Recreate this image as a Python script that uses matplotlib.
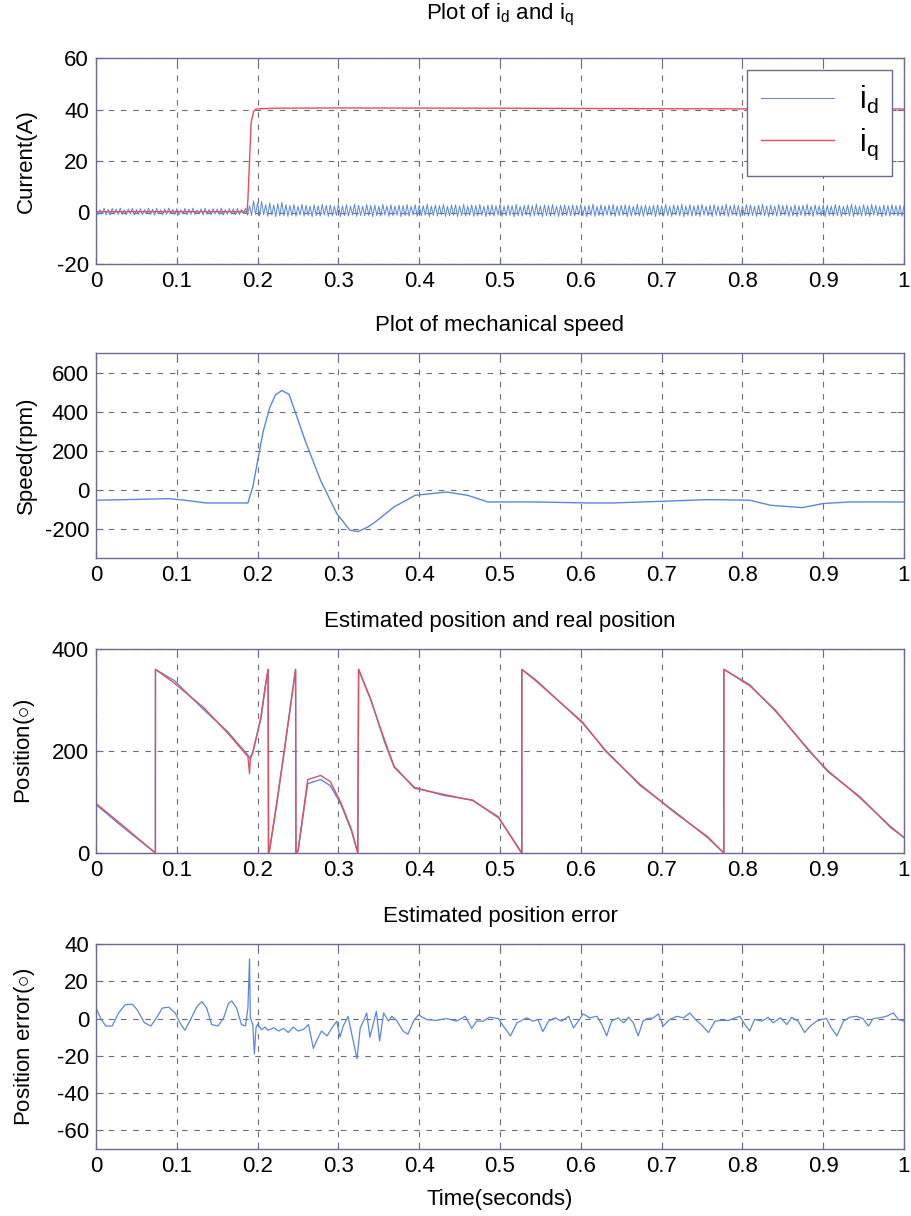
import numpy as np
import matplotlib
matplotlib.use("Agg")
import matplotlib.pyplot as plt

plt.rcParams['font.family'] = ['Liberation Sans', 'DejaVu Sans']
plt.rcParams['mathtext.fontset'] = 'custom'
plt.rcParams['mathtext.rm'] = 'Liberation Sans'
plt.rcParams['mathtext.it'] = 'Liberation Sans'
plt.rcParams['axes.unicode_minus'] = False

# ---- plot 1: currents ----
i_d = [
    # before the step (t < 0.19)
    1.5, -0.8, 1.1, -0.6, 1.7, -0.9, 1.2, -1.0, 1.6, -0.5, 1.3, -0.8, 1.7, -0.7, 1.0, -0.9, 1.4, -0.6, 1.6, -1.0,
    1.2, -0.7, 1.5, -0.9, 1.1, -0.5, 1.7, -0.8, 1.3, -1.0, 1.6, -0.6, 1.0, -0.9, 1.4, -0.7, 1.7, -0.5, 1.2, -0.8,
    1.5, -1.0, 1.1, -0.6, 1.6, -0.9, 1.3, -0.7, 1.7, -0.8, 1.0, -0.5, 1.4, -1.0, 1.6, -0.7, 1.2, -0.9, 1.5, -0.6,
    1.3, -0.8, 1.7, -1.0, 1.1, -0.7, 1.5, -0.6, 1.4, -0.9, 1.6, -0.8, 1.2, -0.5, 1.7, -1.0,
    # after the step
    2.6, -1.1, 4.5, -0.7, 3.8, -1.4, 4.3, -0.9, 3.0, -1.5, 3.7, -1.0, 2.9, -1.6, 3.4, -1.2, 4.0, -1.3, 3.1, -1.5,
    2.7, -1.2, 3.1, -1.5, 2.4, -1.0, 3.2, -1.4, 2.8, -1.1, 2.5, -1.6, 3.0, -1.2, 2.6, -1.4, 3.2, -1.0, 2.7, -1.5,
    2.9, -1.3, 2.5, -1.1, 3.1, -1.6, 2.6, -1.2, 3.0, -1.4, 2.4, -1.0, 3.2, -1.5, 2.8, -1.2, 2.5, -1.3, 3.1, -1.1,
    2.7, -1.6, 2.9, -1.2, 2.4, -1.4, 3.2, -1.0, 2.6, -1.5, 3.0, -1.3, 2.5, -1.1, 2.9, -1.6, 2.7, -1.2, 3.1, -1.4,
    2.4, -1.0, 3.0, -1.5, 2.8, -1.3, 2.6, -1.1, 3.2, -1.6, 2.5, -1.2, 2.9, -1.4, 2.7, -1.0, 3.1, -1.5, 2.4, -1.3,
    2.8, -1.1, 3.0, -1.6, 2.6, -1.2, 3.2, -1.4, 2.5, -1.0, 2.9, -1.5, 2.7, -1.3, 3.1, -1.1, 2.4, -1.6, 2.8, -1.2,
    3.0, -1.4, 2.6, -1.0, 3.2, -1.5, 2.5, -1.3, 2.9, -1.1, 2.7, -1.6, 3.1, -1.2, 2.4, -1.4, 2.8, -1.0, 3.0, -1.5,
    2.6, -1.3, 3.2, -1.1, 2.5, -1.6, 2.9, -1.2, 2.7, -1.4, 3.1, -1.0, 2.4, -1.5, 2.8, -1.3, 3.0, -1.1, 2.6, -1.2,
    2.9, -1.4, 2.7, -1.0, 3.1, -1.3, 2.5, -1.6, 2.8, -1.1, 3.2, -1.5, 2.4, -1.2, 3.0, -1.4, 2.6, -1.0, 2.9, -1.3,
    3.1, -1.5, 2.5, -1.2, 2.8, -1.0, 3.0, -1.6, 2.7, -1.3, 2.4, -1.1, 3.2, -1.4, 2.6, -1.5, 2.9, -1.2, 2.5, -1.0,
    2.8, -1.6, 3.0, -1.1, 2.6, -1.4, 3.1, -1.2, 2.4, -1.5, 2.9, -1.0, 2.7, -1.3, 3.2, -1.6, 2.5, -1.1, 3.0, -1.4,
    2.6, -1.2, 2.9, -1.5, 3.1, -1.0, 2.4, -1.3, 2.8, -1.6, 3.0, -1.1, 2.5, -1.4, 2.7, -1.2, 3.2, -1.5, 2.6, -1.0,
    3.0, -1.3, 2.7, -1.6, 2.5, -1.1, 3.1, -1.4, 2.9, -1.2, 2.4, -1.5, 2.8, -1.0, 3.2, -1.3, 2.6, -1.6, 2.9, -1.1,
    2.5, -1.4, 3.1, -1.2, 2.7, -1.0, 2.9, -1.5, 2.4, -1.3, 3.0, -1.6, 2.6, -1.1, 2.8, -1.4, 3.2, -1.2, 2.5, -1.5,
    2.9, -1.0, 2.6, -1.3, 3.0, -1.6, 2.8, -1.1, 2.5, -1.4, 3.1, -1.2, 2.7, -1.5, 2.4, -1.0, 2.9, -1.3, 3.2, -1.6,
    2.7, -1.1, 2.5, -1.4, 3.0, -1.2, 2.6, -1.5, 3.1, -1.0, 2.8, -1.3, 2.4, -1.6, 2.9, -1.2, 2.7, -1.4, 3.0, -1.1,
    2.6, -1.3, 2.8, -1.5, 2.7]
t_id = np.linspace(0, 1, len(i_d))

t_iq = [0, 0.187, 0.188, 0.190, 0.192, 0.195, 0.198, 0.22, 0.3, 0.5, 0.7, 0.9, 1.0]
i_q = [0.3, 0.3, 5, 20, 35, 39.2, 40.2, 40.5, 40.6, 40.5, 40.3, 40.2, 40.2]

# ---- plot 2: speed ----
t_speed = [0, 0.05, 0.09, 0.11, 0.136, 0.188, 0.194, 0.204, 0.207, 0.215, 0.222, 0.23, 0.239, 0.259, 0.278,
           0.298, 0.314, 0.324, 0.337, 0.346, 0.369, 0.395, 0.434, 0.46, 0.485, 0.544, 0.608, 0.64, 0.705,
           0.757, 0.809, 0.835, 0.874, 0.9, 0.932, 1.0]
speed = [-54, -50, -46, -54, -68, -68, 14, 234, 300, 420, 485, 508, 488, 250, 47,
         -122, -207, -215, -190, -164, -88, -29, -12, -29, -63, -63, -68, -68, -59,
         -51, -54, -80, -92, -71, -63, -63]

# ---- plot 3: position (real and estimated) ----
t_pos = [0, 0.03, 0.0735, 0.0736, 0.097, 0.134, 0.163, 0.188, 0.190, 0.191, 0.194, 0.196, 0.204, 0.21, 0.213,
         0.2135, 0.215, 0.223, 0.233, 0.247, 0.2475, 0.25, 0.262, 0.278, 0.29, 0.303, 0.316, 0.324, 0.325,
         0.34, 0.357, 0.369, 0.394, 0.43, 0.466, 0.498, 0.524, 0.527, 0.5271, 0.544, 0.602, 0.631, 0.673,
         0.718, 0.757, 0.777, 0.7771, 0.809, 0.841, 0.883, 0.906, 0.945, 0.984, 1.0]
pos_real = [97, 58, 0, 360, 333, 284, 235, 189, 156, 185, 196, 209, 266, 333, 360,
            0, 10, 91, 202, 360, 0, 5, 144, 152, 140, 99, 47, 0, 360,
            300, 222, 170, 127, 115, 103, 71, 6, 0, 360, 338, 257, 199, 135,
            77, 32, 0, 360, 328, 280, 199, 161, 109, 51, 30]
pos_est = [95, 55, 0, 360, 338, 280, 238, 192, 186, 188, 198, 212, 262, 330, 360,
           0, 6, 88, 198, 360, 0, 3, 136, 144, 132, 96, 44, 0, 360,
           302, 218, 168, 129, 113, 104, 69, 8, 0, 360, 340, 255, 201, 133,
           79, 30, 0, 360, 330, 278, 201, 159, 111, 49, 31]

# ---- plot 4: position error ----
t_err = [0, 0.006, 0.012, 0.02, 0.028, 0.036, 0.045, 0.051, 0.06, 0.068, 0.076, 0.082, 0.09, 0.098, 0.104,
         0.11, 0.116, 0.125, 0.131, 0.137, 0.143, 0.151, 0.158, 0.164, 0.168, 0.174, 0.18, 0.185, 0.188,
         0.19, 0.191, 0.194, 0.196, 0.198, 0.2, 0.205, 0.209, 0.213, 0.22, 0.226, 0.232, 0.238, 0.244,
         0.25, 0.257, 0.263, 0.269, 0.273, 0.279, 0.286, 0.292, 0.298, 0.302, 0.306, 0.312, 0.317, 0.323,
         0.327, 0.331, 0.335, 0.339, 0.347, 0.351, 0.356, 0.362, 0.366, 0.372, 0.38, 0.386, 0.393, 0.399,
         0.409, 0.421, 0.434, 0.446, 0.457, 0.465, 0.471, 0.479, 0.487, 0.498, 0.504, 0.513, 0.521, 0.527,
         0.533, 0.541, 0.547, 0.553, 0.56, 0.568, 0.576, 0.585, 0.591, 0.597, 0.603, 0.611, 0.62, 0.626,
         0.632, 0.638, 0.646, 0.653, 0.659, 0.665, 0.671, 0.677, 0.682, 0.69, 0.696, 0.702, 0.71, 0.719,
         0.727, 0.735, 0.743, 0.749, 0.758, 0.766, 0.774, 0.783, 0.791, 0.797, 0.803, 0.809, 0.815, 0.824,
         0.832, 0.838, 0.847, 0.855, 0.861, 0.869, 0.877, 0.884, 0.892, 0.898, 0.904, 0.91, 0.917, 0.925,
         0.933, 0.941, 0.949, 0.956, 0.962, 0.97, 0.978, 0.987, 0.993, 1.0]
err = [5.6, 0, -4, -4, 3, 7.4, 7.7, 4.7, -2.3, -4, 1.2, 5.6, 6.1, 3, -2.3,
       -6.3, -1.4, 6.5, 9.1, 5.6, -3.2, -4, 0.4, 8.2, 9.5, 5.6, -3.2, -4, 5.6,
       32, 0.4, -3.2, -19, -5, -3, -6, -4.6, -6.3, -5, -6.7, -5.3, -7.5, -4.6,
       -6.7, -5.8, -3.2, -16, -12, -6.7, -9.3, -5, -1.4, -10, -4, 1.2, -9.3, -21.6,
       -5, -1.4, 3, -10, 3.9, -12, 3, -1.4, 1.2, -1, -6.7, -8.4, -1.4, 2,
       -0.5, -1, 0, -1.4, 1.2, -5.3, -1.4, -1.4, 0.7, 0, -4, -9.3, -2.3, -1,
       0.4, -1.4, -0.5, -7, -1.4, 0.4, -1.4, 1.2, -5, -1.4, 2.5, 0.4, 1.2, -3.2,
       -9.3, -1.4, 0.4, -2.3, 0.7, -2.3, -9.3, -1.4, 0, 0.4, 2.5, -4, -0.5, 1.2,
       0.4, 3, -1, -3.2, -7.5, -1.4, -1, -1, 0.4, 1.2, -3.2, -6.7, -0.5, -1.4,
       0.7, -2.3, 0.4, -3.2, 0.7, -1.4, -7.5, -4, -1.4, -0.5, 0, -5, -9.3, -1.4,
       0.7, 1.2, 0, -4, 0, 0.4, 1.2, 3, -0.5, -1.4]

blue = '#5b86df'
red = '#e2505e'
grid_col = '#6c6c7c'
spine_col = '#6a6a92'
fs = 16

fig = plt.figure(figsize=(9.12, 12.16), dpi=100)
left, width = 96 / 912, 808 / 912
boxes = [(58, 264), (353, 558), (649, 853), (944, 1149)]
axes = []
for top, bot in boxes:
    ax = fig.add_axes([left, (1216 - bot) / 1216, width, (bot - top) / 1216])
    axes.append(ax)

xticks = [0, 0.1, 0.2, 0.3, 0.4, 0.5, 0.6, 0.7, 0.8, 0.9, 1]
xlabels = ['0', '0.1', '0.2', '0.3', '0.4', '0.5', '0.6', '0.7', '0.8', '0.9', '1']

ax1, ax2, ax3, ax4 = axes

ax1.plot(t_id, i_d, color=blue, lw=0.7, label=r'$\mathrm{i_d}$')
ax1.plot(t_iq, i_q, color=red, lw=1.0, label=r'$\mathrm{i_q}$')
ax1.set_ylim(-20, 60)
ax1.set_yticks([-20, 0, 20, 40, 60])
ax1.set_title(r'Plot of $\mathrm{i_d}$ and $\mathrm{i_q}$', fontsize=fs, pad=28)
ax1.set_ylabel('Current(A)', fontsize=fs)
leg = ax1.legend(loc='upper right', fontsize=22, handlelength=2.4, handletextpad=0.8,
                 borderpad=0.45, labelspacing=0.35, borderaxespad=0.4, fancybox=False,
                 framealpha=1)
leg.get_frame().set_edgecolor(spine_col)
leg.get_frame().set_linewidth(1.0)

ax2.plot(t_speed, speed, color=blue, lw=1.0)
ax2.set_ylim(-350, 700)
ax2.set_yticks([-200, 0, 200, 400, 600])
ax2.set_title('Plot of mechanical speed', fontsize=fs, pad=16)
ax2.set_ylabel('Speed(rpm)', fontsize=fs)

ax3.plot(t_pos, pos_est, color=blue, lw=1.0)
ax3.plot(t_pos, pos_real, color=red, lw=1.0)
ax3.set_ylim(0, 400)
ax3.set_yticks([0, 200, 400])
ax3.set_title('Estimated position and real position', fontsize=fs, pad=16)
ax3.set_ylabel(r'Position($\circ$)', fontsize=fs)

ax4.plot(t_err, err, color=blue, lw=0.9)
ax4.set_ylim(-70, 40)
ax4.set_yticks([-60, -40, -20, 0, 20, 40])
ax4.set_title('Estimated position error', fontsize=fs, pad=16)
ax4.set_ylabel(r'Position error($\circ$)', fontsize=fs)
ax4.set_xlabel('Time(seconds)', fontsize=fs, labelpad=9)

for ax in axes:
    ax.set_xlim(0, 1)
    ax.set_xticks(xticks)
    ax.set_xticklabels(xlabels)
    ax.grid(True, color=grid_col, linestyle=(0, (5, 6)), linewidth=0.8)
    ax.tick_params(direction='in', top=True, right=True, labelsize=fs, length=5,
                   color=spine_col, pad=5)
    for s in ax.spines.values():
        s.set_color(spine_col)
        s.set_linewidth(1.0)
    ax.yaxis.set_label_coords(-0.073, 0.5)

fig.savefig('out.png', dpi=100)
